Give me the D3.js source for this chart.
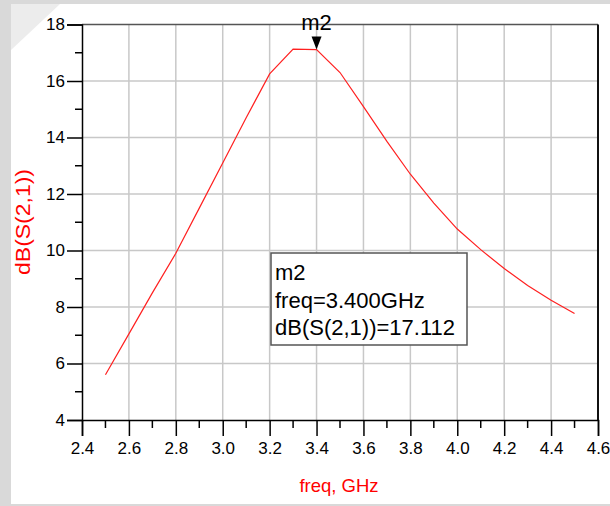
<!DOCTYPE html>
<html>
<head>
<meta charset="utf-8">
<script src="https://cdn.jsdelivr.net/npm/d3@7"></script>
<style>
  html, body { margin: 0; padding: 0; background: #fff; }
  svg text { font-family: "Liberation Sans", Arial, sans-serif; }
</style>
</head>
<body>
<div id="chart"></div>
<script>
// frequency points (GHz) and dB(S(2,1))
const freq = [2.5, 2.6, 2.7, 2.8, 2.9, 3.0, 3.1, 3.2, 3.3, 3.4, 3.5,
              3.6, 3.7, 3.8, 3.9, 4.0, 4.1, 4.2, 4.3, 4.4, 4.5];
const s21 = [5.6, 7.05, 8.5, 9.9, 11.5, 13.1, 14.7, 16.25, 17.13, 17.112, 16.3,
             15.09, 13.86, 12.7, 11.68, 10.76, 10.03, 9.36, 8.76, 8.24, 7.77];

const xTicks = [2.4, 2.6, 2.8, 3.0, 3.2, 3.4, 3.6, 3.8, 4.0, 4.2, 4.4, 4.6];
const xMinor = [2.5, 2.7, 2.9, 3.1, 3.3, 3.5, 3.7, 3.9, 4.1, 4.3, 4.5];
const yTicks = [4, 6, 8, 10, 12, 14, 16, 18];
const yMinor = [5, 7, 9, 11, 13, 15, 17];

const markerName = "m2";
const markerFreq = 3.4;
const markerVal = 17.112;
const markerLines = ["m2", "freq=3.400GHz", "dB(S(2,1))=17.112"];

const width = 610, height = 506;
const plotL = 82, plotR = 598, plotT = 24.5, plotB = 420;

const svg = d3.select("#chart").append("svg")
  .attr("width", width)
  .attr("height", height);

// grey surround + faint watermark band
svg.append("rect").attr("width", width).attr("height", height).attr("fill", "#d9d9d9");
svg.append("rect").attr("x", 11).attr("y", 4).attr("width", width - 11).attr("height", 500).attr("fill", "#fff");
svg.append("path").attr("d", "M11,4 L60,4 L11,50 Z").attr("fill", "#ececec");

const x = d3.scaleLinear().domain([2.4, 4.6]).range([plotL, plotR]);
const y = d3.scaleLinear().domain([4, 18]).range([plotB, plotT]);

// grid
svg.append("g")
  .selectAll("line")
  .data(xTicks.slice(1, -1))
  .join("line")
    .attr("x1", d => x(d)).attr("x2", d => x(d))
    .attr("y1", plotT).attr("y2", plotB)
    .attr("stroke", "#c8c8c8").attr("stroke-width", 1.5);
svg.append("g")
  .selectAll("line")
  .data(yTicks.slice(1, -1))
  .join("line")
    .attr("x1", plotL).attr("x2", plotR)
    .attr("y1", d => y(d)).attr("y2", d => y(d))
    .attr("stroke", "#c8c8c8").attr("stroke-width", 1.5);

// frame
svg.append("line").attr("x1", plotL).attr("x2", plotR).attr("y1", plotT).attr("y2", plotT)
  .attr("stroke", "#555").attr("stroke-width", 1.5);
svg.append("line").attr("x1", plotR).attr("x2", plotR).attr("y1", plotT).attr("y2", plotB)
  .attr("stroke", "#111").attr("stroke-width", 2);

// y axis
const yAxis = svg.append("g")
  .attr("transform", `translate(${plotL},0)`)
  .call(d3.axisLeft(y).tickValues(yTicks).tickSize(15).tickPadding(2).tickFormat(d3.format("d")));
yAxis.select(".domain").attr("stroke", "#000").attr("stroke-width", 1.5);
yAxis.selectAll(".tick line").attr("stroke", "#000").attr("stroke-width", 1.5);
yAxis.selectAll(".tick text").attr("font-size", 17).attr("fill", "#000")
  .attr("font-family", "Liberation Sans, Arial, sans-serif");
svg.append("g").selectAll("line")
  .data(yMinor)
  .join("line")
    .attr("x1", plotL - 7).attr("x2", plotL)
    .attr("y1", d => y(d)).attr("y2", d => y(d))
    .attr("stroke", "#000").attr("stroke-width", 1.5);

// x axis
const xAxis = svg.append("g")
  .attr("transform", `translate(0,${plotB})`)
  .call(d3.axisBottom(x).tickValues(xTicks).tickSize(16).tickPadding(6).tickFormat(d3.format(".1f")));
xAxis.select(".domain").attr("stroke", "#000").attr("stroke-width", 1.5);
xAxis.selectAll(".tick line").attr("stroke", "#000").attr("stroke-width", 1.5);
xAxis.selectAll(".tick text").attr("font-size", 17).attr("fill", "#000")
  .attr("font-family", "Liberation Sans, Arial, sans-serif");
svg.append("g").selectAll("line")
  .data(xMinor)
  .join("line")
    .attr("x1", d => x(d)).attr("x2", d => x(d))
    .attr("y1", plotB).attr("y2", plotB + 8)
    .attr("stroke", "#000").attr("stroke-width", 1.5);

// axis titles
svg.append("text")
  .attr("transform", "translate(30,222) rotate(-90)")
  .attr("text-anchor", "middle")
  .attr("font-size", 21)
  .attr("textLength", 106)
  .attr("lengthAdjust", "spacingAndGlyphs")
  .attr("fill", "#ff0000")
  .text("dB(S(2,1))");
svg.append("text")
  .attr("x", 339).attr("y", 492)
  .attr("text-anchor", "middle")
  .attr("font-size", 18.5)
  .attr("fill", "#ff0000")
  .text("freq, GHz");

// trace
const line = d3.line().x((d, i) => x(freq[i])).y(d => y(d));
svg.append("path")
  .datum(s21)
  .attr("d", line)
  .attr("fill", "none")
  .attr("stroke", "#ff2020")
  .attr("stroke-width", 1.2);

// marker
const mx = x(markerFreq), my = y(markerVal);
svg.append("path")
  .attr("d", `M${mx - 5},${my - 13} L${mx + 5},${my - 13} L${mx},${my} Z`)
  .attr("fill", "#000");
svg.append("text")
  .attr("x", mx).attr("y", my - 20)
  .attr("text-anchor", "middle")
  .attr("font-size", 22)
  .attr("fill", "#000")
  .text(markerName);

// marker readout box
const box = svg.append("g").attr("transform", "translate(271,253)");
box.append("rect")
  .attr("width", 196).attr("height", 92)
  .attr("fill", "#fff").attr("stroke", "#555").attr("stroke-width", 1.5);
box.selectAll("text")
  .data(markerLines)
  .join("text")
    .attr("x", 4)
    .attr("y", (d, i) => 27 + i * 27.5)
    .attr("font-size", 22)
    .attr("fill", "#000")
    .text(d => d);
</script>
</body>
</html>
